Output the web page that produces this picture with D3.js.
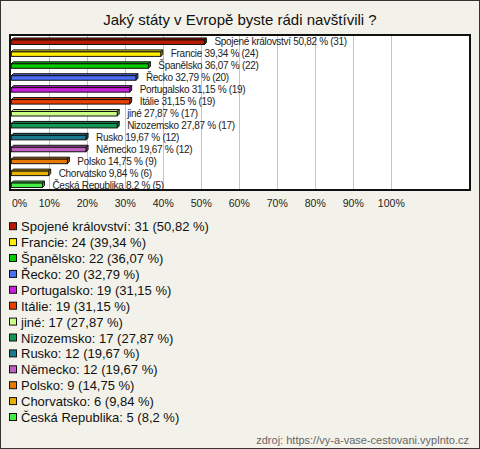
<!DOCTYPE html>
<html><head><meta charset="utf-8">
<script src="https://cdn.jsdelivr.net/npm/d3@7"></script>
<style>body{margin:0;background:#f3f2ea;}svg{display:block;}</style>
</head><body><svg id="c" width="480" height="449"></svg>
<script>
const title = "Jaký státy v Evropě byste rádi navštívili ?";
const categories = ["Spojené království","Francie","Španělsko","Řecko","Portugalsko","Itálie","jiné","Nizozemsko","Rusko","Německo","Polsko","Chorvatsko","Česká Republika"];
const counts = [31,24,22,20,19,19,17,17,12,12,9,6,5];
const percents = [50.82,39.34,36.07,32.79,31.15,31.15,27.87,27.87,19.67,19.67,14.75,9.84,8.2];
const percentLabels = ["50,82","39,34","36,07","32,79","31,15","31,15","27,87","27,87","19,67","19,67","14,75","9,84","8,2"];
const colors = ["#bb1a00","#ffee00","#00cc00","#4a6ef5","#c81ee0","#e84000","#ccff88","#119955","#1a7a90","#c060c0","#e87800","#e8b000","#44ee44"];
const ticks = [0,10,20,30,40,50,60,70,80,90,100];
const source = "zdroj: https://vy-a-vase-cestovani.vyplnto.cz";

const svg = d3.select("#c");
svg.append("rect").attr("x",0.5).attr("y",0.5).attr("width",479).attr("height",448)
  .attr("fill","#f3f2ea").attr("stroke","#333");

svg.append("text").attr("x",240).attr("y",25).attr("text-anchor","middle")
  .style("font-family","Arial, 'Liberation Sans', sans-serif").style("font-size","15px").attr("fill","#111").text(title);

const plot = {l:10, t:35, r:470, b:190};
svg.append("rect").attr("x",plot.l).attr("y",plot.t).attr("width",plot.r-plot.l).attr("height",plot.b-plot.t)
  .attr("fill","#fff");

const x = d3.scaleLinear().domain([0,100]).range([11.3,391.3]);
const y = d3.scaleBand().domain(categories).range([plot.t+0.5, plot.b+0.5]);

svg.append("g").selectAll("line").data(ticks.slice(1)).join("line")
  .attr("x1",d=>Math.round(x(d))+0.5).attr("x2",d=>Math.round(x(d))+0.5)
  .attr("y1",plot.t).attr("y2",plot.b).attr("stroke","#c4c4c4");

const d = 2;
const g = svg.append("g");
categories.forEach((c,i)=>{
  const c0 = y(c)+y.bandwidth()/2;
  const x0 = x(0), x1 = x(percents[i]);
  const top = c0-1.5, h = 4.5;
  const col = d3.color(colors[i]);
  g.append("path").attr("d",`M${x0},${top}L${x0+d},${top-d}L${x1+d},${top-d}L${x1},${top}Z`)
    .attr("fill",col.darker(0.3)).attr("stroke","#111").attr("stroke-width",1).attr("stroke-linejoin","round");
  g.append("path").attr("d",`M${x1},${top}L${x1+d},${top-d}L${x1+d},${top-d+h}L${x1},${top+h}Z`)
    .attr("fill",col.darker(0.8)).attr("stroke","#111").attr("stroke-width",1);
  g.append("rect").attr("x",x0).attr("y",top).attr("width",x1-x0).attr("height",h)
    .attr("fill",colors[i]).attr("stroke","#111").attr("stroke-width",1);
  g.append("text").attr("x",x1+10).attr("y",c0+0.5).attr("dy","0.35em")
    .style("font-family","Arial,'Liberation Sans',sans-serif").style("font-size","10px")
    .style("letter-spacing","-0.3px")
    .attr("fill","#222").text(`${c} ${percentLabels[i]} % (${counts[i]})`);
});

svg.append("rect").attr("x",plot.l).attr("y",plot.t).attr("width",plot.r-plot.l).attr("height",plot.b-plot.t)
  .attr("fill","none").attr("stroke","#111").attr("stroke-width",2);

svg.append("g").selectAll("text").data(ticks).join("text")
  .attr("x",d=> d===0 ? 12 : x(d)).attr("y",207)
  .attr("text-anchor",d=> d===0 ? "start" : "middle")
  .style("font-family","Arial, 'Liberation Sans', sans-serif").style("font-size","10.5px").attr("fill","#222")
  .text(d=>d+"%");

const leg = svg.append("g");
categories.forEach((c,i)=>{
  const yy = 226.7 + i*15.9;
  leg.append("rect").attr("x",9.5).attr("y",yy-4).attr("width",7).attr("height",7)
    .attr("fill",colors[i]).attr("stroke","#111");
  leg.append("text").attr("x",21).attr("y",yy).attr("dy","0.35em")
    .style("font-family","Arial, 'Liberation Sans', sans-serif").style("font-size","13px").attr("fill","#111")
    .text(`${c}: ${counts[i]} (${percentLabels[i]} %)`);
});

svg.append("text").attr("x",469).attr("y",444).attr("text-anchor","end")
  .style("font-family","Arial, 'Liberation Sans', sans-serif").style("font-size","11px").attr("fill","#666").text(source);
</script></body></html>
